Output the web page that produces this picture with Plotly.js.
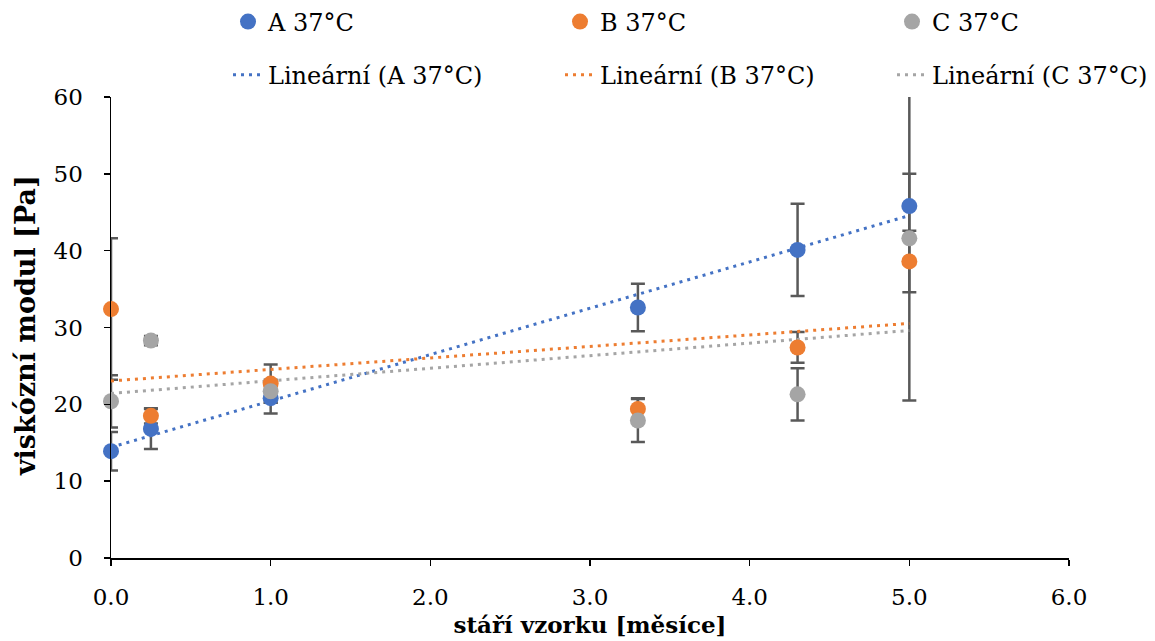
<!DOCTYPE html>
<html>
<head>
<meta charset="utf-8">
<script src="https://cdn.plot.ly/plotly-3.0.1.min.js"></script>
<style>html,body{margin:0;padding:0;background:#fff;}#chart{width:1155px;height:641px;}</style>
</head>
<body>
<div id="chart"></div>
<script>
// Data
const months = [0, 0.25, 1.0, 3.3, 4.3, 5.0];
const seriesA = [13.9, 16.8, 20.8, 32.6, 40.1, 45.8];
const seriesB = [32.4, 18.5, 22.7, 19.4, 27.4, 38.6];
const seriesC = [20.4, 28.3, 21.7, 17.9, 21.3, 41.6];
const errA = [2.5, 2.6, 2.0, 3.1, 6.0, 4.2];
const errB = [9.2, 1.0, 2.5, 1.4, 2.0, 4.0];
const errC = [3.4, 0.6, 1.5, 2.8, 3.4, 21.1];
const seriesNames = ['A 37°C', 'B 37°C', 'C 37°C'];
const trendNames = ['Lineární (A 37°C)', 'Lineární (B 37°C)', 'Lineární (C 37°C)'];
const xTitle = 'stáří vzorku [měsíce]';
const yTitle = 'viskózní modul [Pa]';
const xTickVals = [0, 1, 2, 3, 4, 5, 6];
const xTickText = ['0.0', '1.0', '2.0', '3.0', '4.0', '5.0', '6.0'];
const yTickVals = [0, 10, 20, 30, 40, 50, 60];

const colors = ['#4472C4', '#ED7D31', '#A5A5A5'];
const allY = [seriesA, seriesB, seriesC];
const allErr = [errA, errB, errC];
const legendIds = ['legend', 'legend2', 'legend3'];
const FONT = 'DejaVu Serif, serif';

function linFit(x, y) {
  const n = x.length;
  const mx = x.reduce((a, b) => a + b, 0) / n;
  const my = y.reduce((a, b) => a + b, 0) / n;
  let sxy = 0, sxx = 0;
  for (let i = 0; i < n; i++) { sxy += (x[i] - mx) * (y[i] - my); sxx += (x[i] - mx) ** 2; }
  const slope = sxy / sxx;
  return { slope: slope, intercept: my - slope * mx };
}

const traces = [];
// error bars (clipped to the plot area)
allY.forEach((ys, i) => {
  traces.push({
    x: months, y: ys, type: 'scatter', mode: 'markers',
    marker: { size: 1, color: 'rgba(0,0,0,0)' },
    error_y: { type: 'data', array: allErr[i], visible: true, color: '#595959', thickness: 2.5, width: 7 },
    cliponaxis: true, showlegend: false, hoverinfo: 'skip'
  });
});
// linear trendlines (least squares over the data range)
const xMin = Math.min(...months), xMax = Math.max(...months);
allY.forEach((ys, i) => {
  const f = linFit(months, ys);
  traces.push({
    x: [xMin, xMax], y: [f.intercept + f.slope * xMin, f.intercept + f.slope * xMax],
    type: 'scatter', mode: 'lines', name: trendNames[i],
    line: { color: colors[i], width: 3, dash: '3px,5px' },
    legend: legendIds[i], legendgroup: 't' + i, legendrank: 2, cliponaxis: false
  });
});
// markers
allY.forEach((ys, i) => {
  traces.push({
    x: months, y: ys, type: 'scatter', mode: 'markers', name: seriesNames[i],
    marker: { size: 16, color: colors[i] },
    legend: legendIds[i], legendgroup: 'm' + i, legendrank: 1, cliponaxis: false
  });
});

function legendCfg(px) {
  return {
    orientation: 'v', xref: 'container', x: px / 1155, xanchor: 'left',
    yref: 'container', y: 1 - 48.5 / 641, yanchor: 'middle',
    tracegroupgap: 19, traceorder: 'grouped',
    font: { family: FONT, size: 24, color: '#000000' }, bgcolor: 'rgba(0,0,0,0)', borderwidth: 0
  };
}

const layout = {
  width: 1155, height: 641,
  margin: { l: 111, r: 86, t: 97, b: 83, autoexpand: false },
  paper_bgcolor: '#ffffff', plot_bgcolor: '#ffffff',
  font: { family: FONT, size: 23, color: '#000000' },
  xaxis: {
    range: [0, 6], tickvals: xTickVals, ticktext: xTickText,
    showgrid: false, zeroline: false, showline: true, linecolor: '#000000', linewidth: 1.5,
    ticks: 'outside', ticklen: 6, tickwidth: 1.5, tickcolor: '#000000',
    ticklabelstandoff: 12,
    tickfont: { family: FONT, size: 23 },
    title: { text: xTitle, font: { family: FONT, size: 23, weight: 'bold' }, standoff: 8 }
  },
  yaxis: {
    range: [0, 60], tickvals: yTickVals,
    showgrid: false, zeroline: false, showline: true, linecolor: '#000000', linewidth: 1.5,
    ticks: 'outside', ticklen: 6, tickwidth: 1.5, tickcolor: '#000000',
    ticklabelstandoff: 16,
    tickfont: { family: FONT, size: 23 }
  },
  annotations: [{
    text: yTitle, textangle: -90, showarrow: false,
    xref: 'paper', x: (25 - 111) / 958, xanchor: 'center',
    yref: 'paper', y: 0.503, yanchor: 'middle',
    font: { family: FONT, size: 27, weight: 'bold', color: '#000000' }
  }],
  legend: legendCfg(228),
  legend2: legendCfg(560),
  legend3: legendCfg(892),
  showlegend: true
};

Plotly.newPlot('chart', traces, layout, { displayModeBar: false, staticPlot: true });
</script>
</body>
</html>
